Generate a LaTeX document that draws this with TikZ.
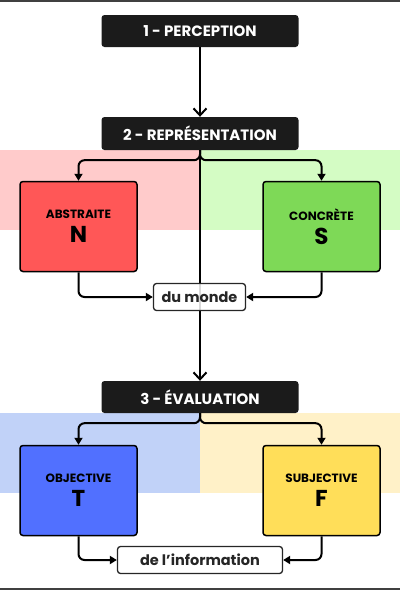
\documentclass[tikz,border=0pt]{standalone}
\usepackage{fontspec}
\setmainfont{Poppins}
\usepackage{xcolor}
\usetikzlibrary{arrows.meta}

\definecolor{etapefond}{HTML}{1B1B1B}
\definecolor{rougeN}{HTML}{FF5757}
\definecolor{rougeclair}{HTML}{FFCBCB}
\definecolor{vertS}{HTML}{7ED957}
\definecolor{vertclair}{HTML}{D4FCC4}
\definecolor{bleuT}{HTML}{5170FF}
\definecolor{bleuclair}{HTML}{C1D2F8}
\definecolor{jauneF}{HTML}{FFDE59}
\definecolor{jauneclair}{HTML}{FFF1C8}

\begin{document}
\begin{tikzpicture}[
    x=1pt, y=-1pt,
    etape/.style={rectangle, rounded corners=3pt, fill=etapefond, text=white,
        minimum width=197pt, minimum height=32pt, inner sep=0pt,
        font=\bfseries\fontsize{15}{18}\selectfont},
    fonction/.style={rectangle, rounded corners=3pt, draw=black, line width=1.5pt,
        minimum width=117pt, minimum height=90pt, inner sep=0pt, align=center},
    note/.style={rectangle, rounded corners=3pt, draw=black!85, line width=1.3pt,
        fill=white, fill opacity=0.85, text opacity=1, text=black!85,
        minimum height=27pt, inner sep=0pt,
        font=\bfseries\fontsize{14.5}{17}\selectfont},
    lien/.style={line width=2pt, rounded corners=6pt,
        -{Triangle[length=7pt, width=8pt]}},
    fleche/.style={line width=2pt, -{Straight Barb[length=7pt, width=13pt]}}
]
    \useasboundingbox (0,0) rectangle (400,590);

    % bandes de fond
    \fill[rougeclair] (0,150) rectangle (200,230);
    \fill[vertclair] (200,150) rectangle (400,230);
    \fill[bleuclair] (0,413) rectangle (200,493);
    \fill[jauneclair] (200,413) rectangle (400,493);

    % filets haut et bas
    \fill[black!75] (0,0) rectangle (400,1.5);
    \fill[black!75] (0,588) rectangle (400,590);

    % etapes
    \node[etape] (perc) at (200,31) {1 - PERCEPTION};
    \node[etape, minimum height=33pt] (repr) at (200,133.5) {2 - REPRÉSENTATION};
    \node[etape] (eval) at (200,397) {3 - ÉVALUATION};

    % fonctions
    \node[fonction, fill=rougeN] (abs) at (78.5,226.5)
        {{\bfseries\fontsize{12}{14}\selectfont ABSTRAITE}\\[7pt]{\bfseries\fontsize{23}{25}\selectfont N}};
    \node[fonction, fill=vertS] (conc) at (321.5,226.5)
        {{\bfseries\fontsize{12}{14}\selectfont CONCRÈTE}\\[7pt]{\bfseries\fontsize{23}{25}\selectfont S}};
    \node[fonction, fill=bleuT] (obj) at (78.5,490.5)
        {{\bfseries\fontsize{12}{14}\selectfont OBJECTIVE}\\[7pt]{\bfseries\fontsize{23}{25}\selectfont T}};
    \node[fonction, fill=jauneF] (subj) at (321.5,490.5)
        {{\bfseries\fontsize{12}{14}\selectfont SUBJECTIVE}\\[7pt]{\bfseries\fontsize{23}{25}\selectfont F}};

    % axe principal
    \draw[fleche] (perc) -- (repr);
    \draw[fleche] (repr) -- (eval);

    % notes
    \node[note, minimum width=92pt] (monde) at (199.5,297) {du monde};
    \node[note, minimum width=165pt] (info) at (200,560) {de l’information};

    % branches
    \draw[lien] (repr.south) -- ++(0,10) -| (abs.north);
    \draw[lien] (repr.south) -- ++(0,10) -| (conc.north);
    \draw[lien] (abs.south) |- (monde.west);
    \draw[lien] (conc.south) |- (monde.east);

    \draw[lien] (eval.south) -- ++(0,10) -| (obj.north);
    \draw[lien] (eval.south) -- ++(0,10) -| (subj.north);
    \draw[lien] (obj.south) |- (info.west);
    \draw[lien] (subj.south) |- (info.east);
\end{tikzpicture}
\end{document}
